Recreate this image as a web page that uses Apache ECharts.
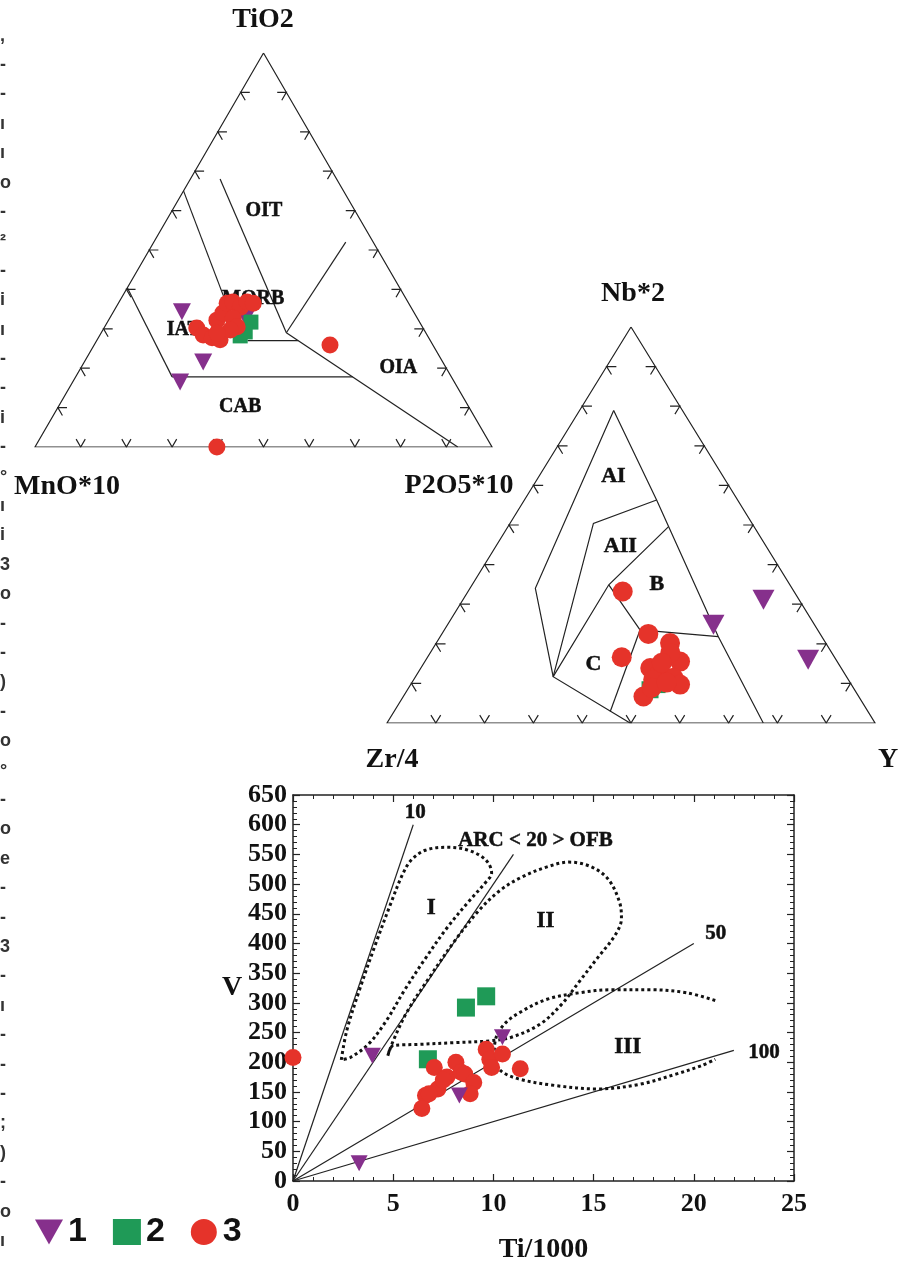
<!DOCTYPE html>
<html>
<head>
<meta charset="utf-8">
<script src="https://cdn.jsdelivr.net/npm/echarts@6/dist/echarts.min.js"></script>
<style>html,body{margin:0;padding:0;background:#fff}#c{width:904px;height:1265px}</style>
</head>
<body>
<div id="c"></div>
<script>
// ---------- Diagram 1: TiO2 – MnO*10 – P2O5*10, values [TiO2, MnO*10, P2O5*10] in % ----------
const t1Corners = ['TiO2', 'MnO*10', 'P2O5*10'];
const t1Boundaries = [
  [[65, 35, 0], [36, 40, 24]],
  [[68, 25.5, 6.5], [29, 30.5, 40.5]],
  [[29, 30.5, 40.5], [52, 6, 42]],
  [[29, 30.5, 40.5], [0, 7.5, 92.5]],
  [[27, 40, 33], [27, 28.9, 44.1]],
  [[17.8, 61.1, 21.1], [17.8, 21.6, 60.6]],
  [[40.4, 59.6, 0], [17.8, 61.1, 21.1]]
];
const t1Fields = ['OIT', 'MORB', 'IAT', 'OIA', 'CAB'];
const t1FieldAt = [[60, 19.9, 20.1], [37.7, 33.4, 28.9], [29.7, 52.6, 17.7], [20, 10.5, 69.5], [10.2, 50, 39.8]];
const t1Type1 = [[34.3, 50.7, 15.0], [21.6, 52.4, 26.0], [16.5, 60.0, 23.5], [32.7, 37.5, 29.8]];
const t1Type2 = [[31.7, 36.9, 31.4], [28.2, 41.0, 30.8], [29.2, 39.4, 31.4]];
const t1Type3 = [[30.2, 49.5, 20.3], [28.4, 49.0, 22.6], [27.7, 47.4, 24.9], [27.2, 45.9, 26.9], [32.2, 44.1, 23.7],
  [34.0, 41.9, 24.1], [36.5, 39.7, 23.8], [36.8, 38.3, 24.9], [35.5, 37.3, 27.2], [36.8, 35.2, 28.0],
  [36.5, 34.0, 29.5], [32.7, 40.3, 27.0], [30.5, 40.5, 29.0], [29.7, 42.4, 27.9], [28.9, 45.7, 25.4],
  [25.9, 22.5, 51.6], [0, 60.2, 39.8]];

// ---------- Diagram 2: Nb*2 – Zr/4 – Y, values [Nb*2, Zr/4, Y] in % ----------
const t2Corners = ['Nb*2', 'Zr/4', 'Y'];
const t2Boundaries = [
  [[78.9, 14.1, 7.0], [34.0, 52.6, 13.4], [11.7, 60.1, 28.2], [0, 50.2, 49.8]],
  [[78.9, 14.1, 7.0], [56.3, 16.6, 27.1], [49.6, 17.5, 32.9], [21.8, 21.2, 57.0], [0, 22.9, 77.1]],
  [[56.3, 16.6, 27.1], [50.4, 32.5, 17.1], [11.7, 60.1, 28.2]],
  [[49.6, 17.5, 32.9], [34.9, 37.1, 28.0], [11.7, 60.1, 28.2]],
  [[34.9, 37.1, 28.0], [23.5, 36.4, 40.1], [21.8, 21.2, 57.0]],
  [[23.5, 36.4, 40.1], [2.9, 52.8, 44.3]]
];
const t2Fields = ['AI', 'AII', 'B', 'C'];
const t2FieldAt = [[62.2, 22.5, 15.3], [44.5, 29.95, 25.55], [34.9, 27.25, 37.85], [14.7, 50.35, 34.95]];
const t2Type1 = [[24.8, 20.7, 54.5], [31.1, 7.3, 61.6], [16.0, 5.7, 78.3]];
const t2Type2 = [[9.7, 39.8, 50.5], [8.4, 41.9, 49.7]];
const t2Type3 = [[33.2, 35.1, 31.7], [22.5, 35.2, 42.3], [16.6, 43.6, 39.8], [20.2, 31.9, 47.9], [15.5, 32.2, 52.3],
  [17.7, 33.1, 49.2], [13.9, 39.1, 47.0], [12.7, 37.7, 49.6], [11.4, 35.6, 53.0], [9.7, 35.1, 55.2],
  [10.9, 40.0, 49.1], [6.7, 44.1, 49.2], [8.9, 41.3, 49.8], [10.2, 37.6, 52.2], [15.2, 36.1, 48.7]];

// ternary ticks (every 10 %)
const ternTicks = [10, 20, 30, 40, 50, 60, 70, 80, 90];

// ---------- Diagram 3: V vs Ti/1000 ----------
const vTiType1 = [[3.96, 211], [8.30, 144], [10.45, 242], [3.30, 30]];
const vTiType2 = [[8.63, 292], [9.64, 311], [6.73, 205]];
const vTiType3 = [[0, 208], [7.05, 191], [8.13, 200], [7.68, 175], [8.39, 183], [7.23, 155], [6.61, 144],
  [6.43, 122], [6.79, 147], [8.57, 180], [9.02, 166], [8.84, 147], [9.64, 222], [9.82, 205], [9.91, 191],
  [10.45, 214], [11.34, 189], [7.5, 170]];
const ratioValues = [10, 20, 50, 100];
const ratioEnds = [[6, 600], [11, 550], [20, 400], [22, 220]];
const ratioLabels = ['10', 'ARC < 20 > OFB', '50', '100'];
const ratioLabelAt = [[6.1, 620], [12.1, 573], [21.1, 417], [23.5, 216]];
const fieldI = [[2.41, 204], [2.68, 253], [3.30, 320], [4.11, 398], [4.91, 470], [5.45, 515], [5.89, 540],
  [6.61, 557], [7.68, 562], [8.75, 557], [9.64, 540], [9.91, 518], [9.64, 504], [8.75, 470], [7.68, 426],
  [6.61, 375], [5.54, 320], [4.64, 269], [3.75, 230], [2.86, 208], [2.41, 204]];
const fieldII = [[4.73, 211], [5.0, 236], [5.71, 286], [6.79, 342], [8.04, 403], [9.29, 456], [10.36, 490],
  [11.43, 512], [12.68, 529], [13.75, 537], [14.82, 530], [15.71, 509], [16.29, 470], [16.39, 442],
  [16.07, 414], [15.18, 375], [14.29, 336], [13.39, 297], [12.32, 264], [10.89, 242], [9.82, 236],
  [8.04, 233], [6.25, 230], [5.0, 228], [4.73, 211]];
const fieldIII = [[21.07, 304], [19.64, 317], [17.86, 322], [15.89, 322], [14.29, 317], [12.68, 306],
  [11.43, 286], [10.54, 264], [10.09, 236], [10.04, 208], [10.36, 186], [11.25, 172], [13.04, 161],
  [15.18, 155], [17.32, 163], [19.11, 180], [20.36, 194], [21.07, 205]];
const fieldNames = ['I', 'II', 'III'];
const fieldLabelAt = [[6.9, 459], [12.6, 437], [16.7, 225]];
const xRange = [0, 25, 5];
const yRange = [0, 650, 50];

const legendNames = ['1', '2', '3'];
// cropped glyphs of the neighbouring text column on the page edge
const edgeGlyphs = [',', '-', '-', 'ı', 'ı', 'o', '-', '²', '-', 'i', 'ı', '-', '-', 'i', '-', '°', 'ı', 'i', '3', 'o', '-',
  '-', ')', '-', 'o', '°', '-', 'o', 'e', '-', '-', '3', '-', 'ı', '-', '-', '-', ';', ')', '-', 'o', 'ı'];

// ---------- styling ----------
const SERIF = 'Liberation Serif';
const PURPLE = '#86308c', GREEN = '#1f9a57', RED = '#e5332a', INK = '#222';

function tern(p) {
  const s = p[0] + p[1] + p[2];
  return [(p[2] + p[0] / 2) / s * 100, p[0] / s * 100];
}
function frame() {
  return [[[100, 0, 0], [0, 100, 0], [0, 0, 100], [100, 0, 0]].map(tern)];
}
function ticks(d) {
  const out = [];
  ternTicks.forEach(k => {
    out.push([[d, 100 - k - d, k], [0, 100 - k, k], [d, 100 - k, k - d]].map(tern));
    out.push([[k, 100 - k - d, d], [k, 100 - k, 0], [k - d, 100 - k, d]].map(tern));
    out.push([[k, d, 100 - k - d], [k, 0, 100 - k], [k - d, d, 100 - k]].map(tern));
  });
  return out;
}
function linesSeries(g, coordsList, width) {
  return {
    type: 'lines', coordinateSystem: 'cartesian2d', xAxisIndex: g, yAxisIndex: g, polyline: true,
    silent: true, z: 2, lineStyle: { color: INK, width: width || 1.2, opacity: 1 },
    data: coordsList.map(c => ({ coords: c }))
  };
}
function labelSeries(g, names, positions, size, conv) {
  return {
    type: 'scatter', xAxisIndex: g, yAxisIndex: g, symbolSize: 1, silent: true, z: 3, clip: false,
    itemStyle: { color: 'transparent' },
    data: names.map((n, i) => ({ name: n, value: conv ? conv(positions[i]) : positions[i] })),
    label: { show: true, position: 'inside', formatter: '{b}', fontFamily: SERIF, fontWeight: 'bold',
      fontSize: size, color: '#111', opacity: 1, textBorderColor: '#111', textBorderWidth: 0.5 }
  };
}
function pointSeries(g, pts, name, kind, size, z, conv) {
  const sym = kind === 1 ? 'triangle' : (kind === 2 ? 'rect' : 'circle');
  const color = kind === 1 ? PURPLE : (kind === 2 ? GREEN : RED);
  return {
    type: 'scatter', name, xAxisIndex: g, yAxisIndex: g, symbol: sym, symbolRotate: kind === 1 ? 180 : 0,
    symbolSize: size, z, clip: false, silent: true, itemStyle: { color, opacity: 1 },
    data: conv ? pts.map(conv) : pts
  };
}
function fieldSeries(data) {
  return {
    type: 'line', xAxisIndex: 2, yAxisIndex: 2, data, smooth: 0.35, symbol: 'none', silent: true, z: 2,
    lineStyle: { color: '#111', width: 3, type: [3, 3] }
  };
}

const hidden = (g) => ({ gridIndex: g, type: 'value', min: 0, max: 100, show: false });
const axisCommon = {
  type: 'value', gridIndex: 2, splitLine: { show: false },
  axisLine: { show: true, onZero: false, lineStyle: { color: INK, width: 1.5 } },
  axisTick: { show: true, inside: true, length: 7, lineStyle: { color: INK, width: 1.2 } },
  minorTick: { show: true, splitNumber: 5, length: 4, lineStyle: { color: INK, width: 1 } }
};
const labelFont = { fontFamily: SERIF, fontWeight: 'bold', fontSize: 26, color: '#111' };

const series = [];
// diagram 1
series.push(linesSeries(0, frame().concat(ticks(2)), 1.2));
series.push(linesSeries(0, t1Boundaries.map(b => b.map(tern)), 1.2));
series.push(labelSeries(0, t1Fields, t1FieldAt, 20, tern));
series.push(pointSeries(0, t1Type1, legendNames[0], 1, [18, 17], 4, tern));
series.push(pointSeries(0, t1Type2, legendNames[1], 2, 15, 5, tern));
series.push(pointSeries(0, t1Type3, legendNames[2], 3, 17, 6, tern));
// diagram 2
series.push(linesSeries(1, frame().concat(ticks(2)), 1.2));
series.push(linesSeries(1, t2Boundaries.map(b => b.map(tern)), 1.2));
series.push(labelSeries(1, t2Fields, t2FieldAt, 22, tern));
series.push(pointSeries(1, t2Type1, legendNames[0], 1, [22, 20], 4, tern));
series.push(pointSeries(1, t2Type2, legendNames[1], 2, 17, 5, tern));
series.push(pointSeries(1, t2Type3, legendNames[2], 3, 20, 6, tern));
// diagram 3
series.push(linesSeries(2, ratioEnds.map(e => [[0, 0], e]), 1.2));
series.push(fieldSeries(fieldI));
series.push(fieldSeries(fieldII));
series.push(fieldSeries(fieldIII));
series.push(labelSeries(2, ratioLabels, ratioLabelAt, 21));
series.push(labelSeries(2, fieldNames, fieldLabelAt, 23));
series.push(pointSeries(2, vTiType2, legendNames[1], 2, 18, 4));
series.push(pointSeries(2, vTiType3, legendNames[2], 3, 17, 5));
series.push(pointSeries(2, vTiType1, legendNames[0], 1, [17, 16], 6));

const cornerText = (text, x, y) => ({
  type: 'text', x, y, silent: true,
  style: { text, fontFamily: SERIF, fontWeight: 'bold', fontSize: 28, fill: '#111', align: 'center', verticalAlign: 'middle' }
});

const option = {
  animation: false,
  backgroundColor: '#fff',
  grid: [
    { left: 35, top: 53, width: 457, height: 394 },
    { left: 387, top: 327, width: 488, height: 396 },
    { left: 293, top: 795, width: 501, height: 389 }
  ],
  xAxis: [
    hidden(0), hidden(1),
    Object.assign({}, axisCommon, {
      min: xRange[0], max: xRange[1], interval: xRange[2], position: 'bottom',
      axisLabel: Object.assign({ margin: 10 }, labelFont),
      name: 'Ti/1000', nameLocation: 'middle', nameGap: 55,
      nameTextStyle: { fontFamily: SERIF, fontWeight: 'bold', fontSize: 28, color: '#111' }
    }),
    Object.assign({}, axisCommon, {
      min: xRange[0], max: xRange[1], interval: xRange[2], position: 'top', axisLabel: { show: false }
    })
  ],
  yAxis: [
    hidden(0), hidden(1),
    Object.assign({}, axisCommon, {
      min: yRange[0], max: yRange[1], interval: yRange[2], position: 'left',
      axisLabel: Object.assign({ margin: 6 }, labelFont),
      name: 'V', nameLocation: 'middle', nameGap: 17, nameRotate: 0,
      nameTextStyle: { fontFamily: SERIF, fontWeight: 'bold', fontSize: 28, color: '#111', align: 'right', verticalAlign: 'middle', padding: [12, 0, 0, 0] }
    }),
    Object.assign({}, axisCommon, {
      min: yRange[0], max: yRange[1], interval: yRange[2], position: 'right', axisLabel: { show: false }
    })
  ],
  legend: {
    data: [{ name: legendNames[0], icon: 'path://M0,0L10,0L5,9Z' }, legendNames[1], legendNames[2]],
    left: 30, top: 1210, itemWidth: 28, itemHeight: 26, itemGap: 26,
    selectedMode: false,
    textStyle: { fontFamily: 'Liberation Sans', fontWeight: 'bold', fontSize: 34, color: '#111' }
  },
  graphic: [
    cornerText(t1Corners[0], 263, 20),
    cornerText(t1Corners[1], 67, 487),
    cornerText(t1Corners[2], 459, 486),
    cornerText(t2Corners[0], 633, 294),
    cornerText(t2Corners[1], 392, 760),
    cornerText(t2Corners[2], 888, 760),
    {
      type: 'text', x: 0, y: 21, silent: true,
      style: { text: edgeGlyphs.join('\n'), fontFamily: 'Liberation Sans', fontWeight: 'bold', fontSize: 18,
        lineHeight: 29.4, fill: '#333', align: 'left', verticalAlign: 'top' }
    }
  ],
  series
};

const chart = echarts.init(document.getElementById('c'), null, { renderer: 'canvas' });
chart.setOption(option);
</script>
</body>
</html>
